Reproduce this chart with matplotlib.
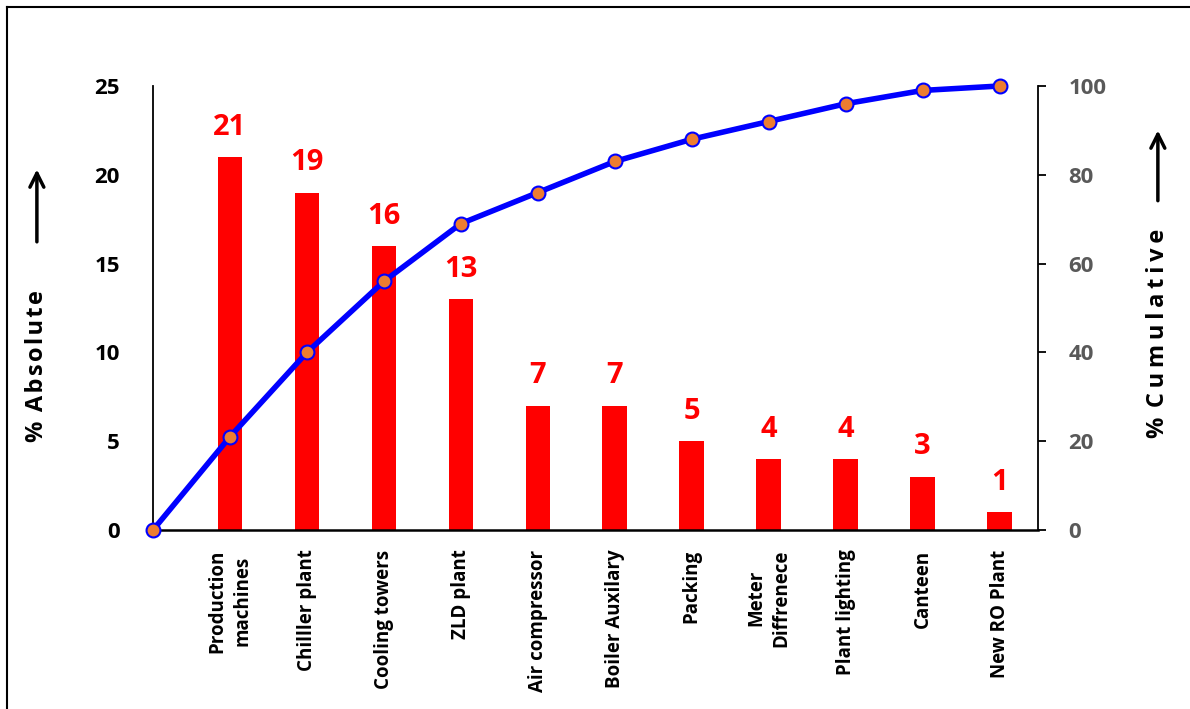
import matplotlib.pyplot as plt
import numpy as np
from matplotlib.lines import Line2D

plt.rcParams['font.family'] = ['Open Sans', 'DejaVu Sans']

categories = ['Production\nmachines', 'Chilller plant', 'Cooling towers', 'ZLD plant',
              'Air compressor', 'Boiler Auxilary', 'Packing', 'Meter\nDiffrenece',
              'Plant lighting', 'Canteen', 'New RO Plant']
absolute = [21, 19, 16, 13, 7, 7, 5, 4, 4, 3, 1]
left_ticks = [0, 5, 10, 15, 20, 25]
right_ticks = [0, 20, 40, 60, 80, 100]

cumulative = np.concatenate([[0], np.cumsum(absolute)])
xpos = np.arange(1, len(categories) + 1)

fig = plt.figure(figsize=(11.9, 7.09), dpi=100)
ax = fig.add_axes([0.1286, 0.2525, 0.7437, 0.6262])

ax.bar(xpos, absolute, width=0.32, color='#FF0000', zorder=2)
for x, v in zip(xpos, absolute):
    ax.annotate(str(v), (x, v), xytext=(0, 16), textcoords='offset points',
                ha='center', va='baseline', color='#FF0000',
                fontsize=21, fontweight='bold')

ax.set_xlim(0, 11.5)
ax.set_ylim(0, 25)
ax.set_yticks(left_ticks)
ax.set_yticklabels([str(t) for t in left_ticks], fontsize=16, fontweight='bold')
ax.tick_params(axis='y', length=0, pad=24)
ax.set_xticks(xpos)
ax.set_xticklabels(categories, rotation=90, fontsize=13.5, fontweight='bold',
                   ha='center', va='top', multialignment='center', linespacing=1.3)
ax.tick_params(axis='x', length=0, pad=14)
for s in ['top', 'right']:
    ax.spines[s].set_visible(False)
ax.spines['left'].set_linewidth(1.3)
ax.spines['bottom'].set_linewidth(1.8)

ax2 = ax.twinx()
ax2.plot(np.arange(len(cumulative)), cumulative, color='#0000FF', lw=4,
         marker='o', markersize=10, markerfacecolor='#ED7D31',
         markeredgecolor='#0000FF', markeredgewidth=1.5, zorder=3, clip_on=False)
ax2.set_ylim(0, 100)
ax2.set_yticks(right_ticks)
ax2.set_yticklabels([str(t) for t in right_ticks], fontsize=16, fontweight='bold',
                    color='#595959')
ax2.tick_params(axis='y', length=6, width=1.3, pad=16)
for s in ['top', 'left', 'bottom']:
    ax2.spines[s].set_visible(False)
ax2.spines['right'].set_linewidth(1.3)

# axis titles with arrows
arrow = dict(arrowstyle='->', lw=2.5, color='black', mutation_scale=25)
fig.text(0.031, 0.484, '%\u2009\u2009' + '\u200a'.join('Absolute'), rotation=90,
         ha='center', va='center', fontsize=17, fontweight='bold')
ax.annotate('', xy=(0.031, 0.765), xytext=(0.031, 0.655), xycoords='figure fraction',
            arrowprops=arrow, annotation_clip=False)
fig.text(0.973, 0.53, '%\u2009\u2009' + '\u2009'.join('Cumulative'), rotation=90,
         ha='center', va='center', fontsize=17, fontweight='bold')
ax.annotate('', xy=(0.973, 0.82), xytext=(0.973, 0.713), xycoords='figure fraction',
            arrowprops=arrow, annotation_clip=False)

# frame lines along top and left edges
fig.add_artist(Line2D([0.006, 1.0], [0.990, 0.990], color='black', lw=1.5,
                      transform=fig.transFigure))
fig.add_artist(Line2D([0.006, 0.006], [0.0, 0.990], color='black', lw=1.5,
                      transform=fig.transFigure))

fig.savefig('out.png', dpi=100)
